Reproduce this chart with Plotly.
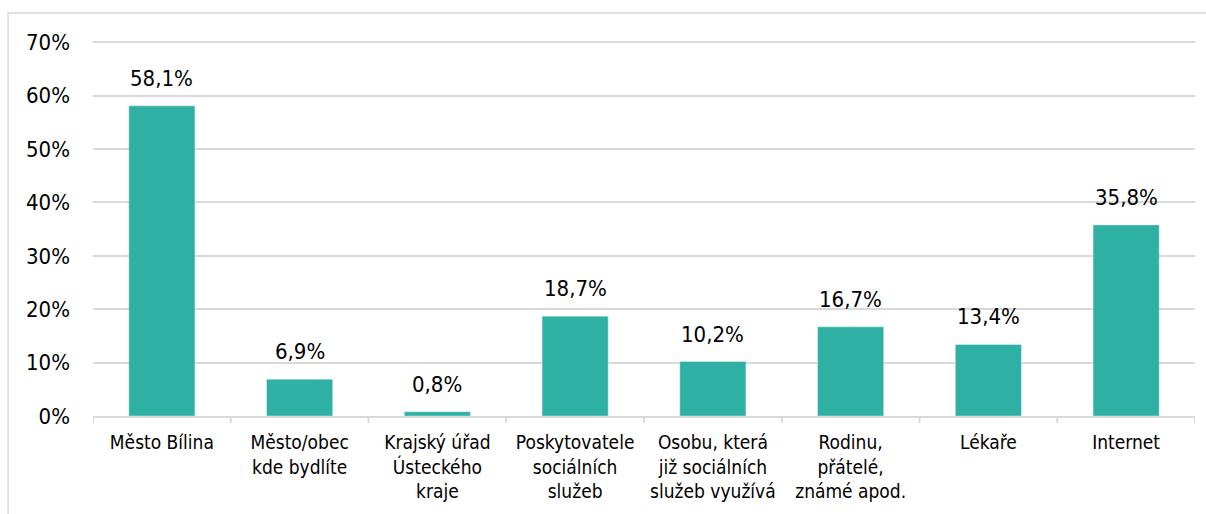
import plotly.graph_objects as go

categories = ["Město Bílina", "Město/obec<br>kde bydlíte", "Krajský úřad<br>Ústeckého<br>kraje",
              "Poskytovatele<br>sociálních<br>služeb", "Osobu, která<br>již sociálních<br>služeb využívá",
              "Rodinu,<br>přátelé,<br>známé apod.", "Lékaře", "Internet"]
values = [58.1, 6.9, 0.8, 18.7, 10.2, 16.7, 13.4, 35.8]
labels = [f"{v:.1f}%".replace(".", ",") for v in values]
y_ticks = [0, 10, 20, 30, 40, 50, 60, 70]
y_tick_text = [f"{t}%" for t in y_ticks]

font_family = "DejaVu Sans Condensed, DejaVu Sans, sans-serif"
xs = list(range(len(categories)))

fig = go.Figure(go.Bar(
    x=xs, y=values, marker=dict(color="#2EB0A4"), width=0.48, hoverinfo="skip",
))

for x, v, t in zip(xs, values, labels):
    fig.add_annotation(x=x, y=v, text=t, showarrow=False, yanchor="bottom", yshift=13,
                       font=dict(size=22, color="#000000", family=font_family))

fig.update_layout(
    width=1206, height=514, margin=dict(l=93, r=11, t=37, b=98),
    paper_bgcolor="white", plot_bgcolor="white", showlegend=False,
    font=dict(family=font_family, color="#000000"),
    xaxis=dict(tickmode="array", tickvals=xs, ticktext=categories,
               range=[-0.5, 7.5], showgrid=False, showline=True, linecolor="#d9d9d9", linewidth=2,
               ticks="", tickfont=dict(size=19), zeroline=False, automargin=False,
               ticklabelstandoff=8),
    yaxis=dict(range=[0, 71], tickvals=y_ticks, ticktext=y_tick_text, showgrid=True,
               gridcolor="#d9d9d9", gridwidth=1.5, zeroline=False, showline=False,
               tickfont=dict(size=22), ticks="", ticklen=0, automargin=False,
               ticklabelstandoff=22),
)

# category boundary tick marks
for i in range(len(categories) + 1):
    fig.add_shape(type="line", xref="x", yref="paper", x0=i - 0.5, x1=i - 0.5, y0=0, y1=-0.018,
                  line=dict(color="#d9d9d9", width=2))

# outer chart border
fig.add_shape(type="rect", xref="paper", yref="paper", x0=-0.0771, x1=1.02, y0=-0.3, y1=1.0633,
              line=dict(color="#d9d9d9", width=1.5), fillcolor="rgba(0,0,0,0)", layer="below")

fig.write_html("out.html", config={"displayModeBar": False},
               post_script="document.body.style.margin='0';")
